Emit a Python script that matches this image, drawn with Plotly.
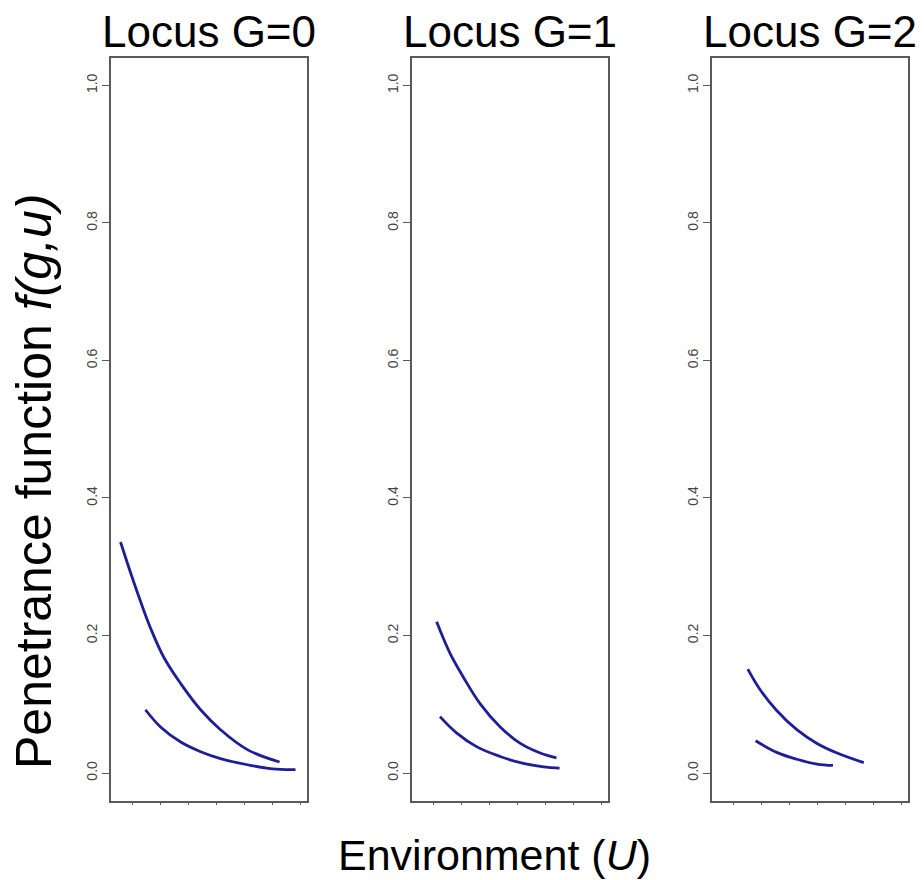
import plotly.graph_objects as go

# ---- data ----
panel_titles = ["Locus G=0", "Locus G=1", "Locus G=2"]
y_ticks = [0.0, 0.2, 0.4, 0.6, 0.8, 1.0]
y_tick_labels = ["0.0", "0.2", "0.4", "0.6", "0.8", "1.0"]
x_ticks = [0, 1, 2, 3, 4, 5, 6]

g0_upper_u = [-0.42, 0.0, 0.30, 0.65, 1.13, 1.73, 2.44, 3.15, 4.11, 5.26]
g0_upper_f = [0.336, 0.284, 0.249, 0.211, 0.168, 0.130, 0.092, 0.063, 0.034, 0.016]
g0_lower_u = [0.47, 1.01, 1.73, 2.44, 3.15, 4.11, 5.00, 5.83]
g0_lower_f = [0.092, 0.067, 0.045, 0.031, 0.021, 0.012, 0.006, 0.005]

g1_upper_u = [0.12, 0.60, 1.08, 1.67, 2.39, 3.11, 3.82, 4.40]
g1_upper_f = [0.220, 0.174, 0.139, 0.101, 0.067, 0.043, 0.029, 0.022]
g1_lower_u = [0.24, 0.84, 1.56, 2.39, 3.11, 3.94, 4.51]
g1_lower_f = [0.082, 0.058, 0.038, 0.024, 0.015, 0.009, 0.007]

g2_upper_u = [0.52, 0.96, 1.55, 2.27, 2.99, 3.71, 4.66]
g2_upper_f = [0.151, 0.121, 0.091, 0.063, 0.043, 0.029, 0.015]
g2_lower_u = [0.80, 1.55, 2.27, 2.99, 3.56]
g2_lower_f = [0.047, 0.030, 0.020, 0.013, 0.011]

curves = [
    [(g0_upper_u, g0_upper_f), (g0_lower_u, g0_lower_f)],
    [(g1_upper_u, g1_upper_f), (g1_lower_u, g1_lower_f)],
    [(g2_upper_u, g2_upper_f), (g2_lower_u, g2_lower_f)],
]

# ---- layout geometry ----
W, H = 924, 880
x_domains = [(111 / W, 307 / W), (412 / W, 608 / W), (712 / W, 908 / W)]
y_domain = (1 - 800.5 / H, 1 - 57.5 / H)
line_color = "#1e1e98"
axis_color = "#5a5a5a"
font_family = "Liberation Sans, Arial, sans-serif"

fig = go.Figure()
layout = dict(
    width=W, height=H,
    margin=dict(l=0, r=0, t=0, b=0),
    paper_bgcolor="white", plot_bgcolor="white",
    showlegend=False,
    font=dict(family=font_family, color="black"),
)

annotations = []
for i in range(3):
    xa = "x" if i == 0 else f"x{i+1}"
    ya = "y" if i == 0 else f"y{i+1}"
    for (u, f) in curves[i]:
        fig.add_trace(go.Scatter(
            x=u, y=f, xaxis=xa, yaxis=ya, mode="lines",
            line=dict(color=line_color, width=2.8, shape="spline", smoothing=1.1),
            hoverinfo="skip",
        ))
    key = "" if i == 0 else str(i + 1)
    layout["xaxis" + key] = dict(
        domain=list(x_domains[i]), anchor=ya, range=[-0.76, 6.24],
        tickmode="array", tickvals=x_ticks, ticktext=[""] * len(x_ticks),
        ticks="outside", ticklen=3, tickwidth=1, tickcolor=axis_color,
        showgrid=False, zeroline=False,
        showline=True, linecolor=axis_color, linewidth=1.5, mirror=True,
    )
    layout["yaxis" + key] = dict(
        domain=list(y_domain), anchor=xa, range=[-0.04, 1.0407],
        tickmode="array", tickvals=y_ticks, ticktext=y_tick_labels,
        ticks="outside", ticklen=7, tickwidth=1, tickcolor=axis_color,
        tickangle=-90, tickfont=dict(size=14, color="#444444", family=font_family),
        showgrid=False, zeroline=False,
        showline=True, linecolor=axis_color, linewidth=1.5, mirror=True,
    )
    cx = (x_domains[i][0] + x_domains[i][1]) / 2
    annotations.append(dict(
        text=panel_titles[i], x=cx, y=1 - 31 / H, xref="paper", yref="paper",
        xanchor="center", yanchor="middle", showarrow=False,
        font=dict(size=44, family=font_family, color="black"),
    ))

annotations.append(dict(
    text="Environment (<i>U</i>)", x=494 / W, y=1 - 855 / H,
    xref="paper", yref="paper", xanchor="center", yanchor="middle",
    showarrow=False, font=dict(size=43, family=font_family, color="black"),
))
annotations.append(dict(
    text="Penetrance function <i>f(g,u)</i>", x=34 / W, y=1 - 482 / H,
    xref="paper", yref="paper", xanchor="center", yanchor="middle",
    textangle=-90, showarrow=False,
    font=dict(size=50, family=font_family, color="black"),
))
layout["annotations"] = annotations
fig.update_layout(**layout)
fig.write_html("out.html")
